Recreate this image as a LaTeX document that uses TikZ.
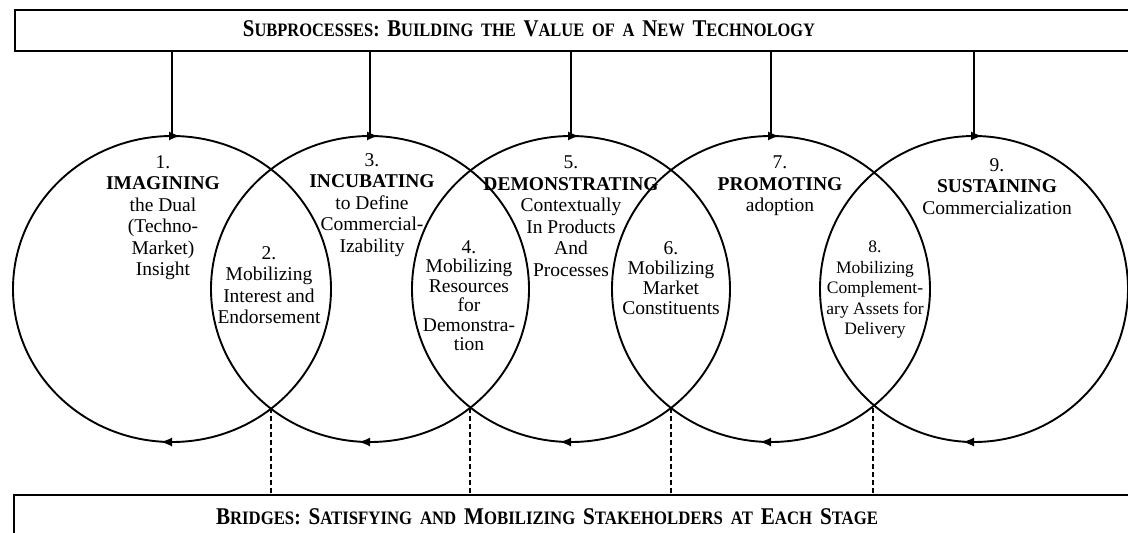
\documentclass[tikz,border=0pt]{standalone}
\usepackage{fontspec}
\setmainfont{Liberation Serif}
\usetikzlibrary{shapes.geometric,arrows.meta}
\newcommand\bsc[2]{{\fontsize{24}{24}\selectfont #1}{\fontsize{19}{19}\selectfont #2}}
\newcommand\wsp{\hspace{9pt}}
\begin{document}
\begin{tikzpicture}[x=1pt,y=1pt,
  stage/.style={draw,ellipse,line width=1.9pt,minimum width=318pt,minimum height=306pt,inner sep=0pt,outer sep=0pt},
  bar/.style={line width=2.4pt},
  feed/.style={line width=1.5pt},
  bridge/.style={line width=1.5pt,dash pattern=on 5pt off 3pt},
  dirtip/.style={-{Latex[length=11pt,width=9pt]},line width=1.2pt},
  lbl/.style={align=center,inner sep=0pt,anchor=north,font=\fontsize{19.5}{21.5}\selectfont},
  banner/.style={inner sep=0pt,anchor=center,font=\bfseries}
  ]
\useasboundingbox (0,0) rectangle (1128,-533);
\fill[white] (0,0) rectangle (1128,-533);
% banners
\draw[bar] (1140,-10) -- (15,-10) -- (15,-51) -- (1140,-51);
\draw[bar] (1140,-495) -- (14,-495) -- (14,-540);
\node[banner] (topbar) at (529,-29) {\resizebox{572pt}{\height}{\bsc{S}{UBPROCESSES}{\fontsize{22}{22}\selectfont:}\wsp\bsc{B}{UILDING}\wsp\bsc{}{THE}\wsp\bsc{V}{ALUE}\wsp\bsc{}{OF}\wsp\bsc{}{A}\wsp\bsc{N}{EW}\wsp\bsc{T}{ECHNOLOGY}}};
\node[banner] (botbar) at (547,-516.5) {\resizebox{662pt}{\height}{\bsc{B}{RIDGES}{\fontsize{22}{22}\selectfont:}\wsp\bsc{S}{ATISFYING}\wsp\bsc{}{AND}\wsp\bsc{M}{OBILIZING}\wsp\bsc{S}{TAKEHOLDERS}\wsp\bsc{}{AT}\wsp\bsc{E}{ACH}\wsp\bsc{S}{TAGE}}};
\coordinate (topedge) at (0,-51);
\coordinate (botedge) at (0,-495);
% circles
\node[stage] (c1) at (172,-289) {};
\node[stage] (c3) at (370,-289) {};
\node[stage] (c5) at (571,-289) {};
\node[stage] (c7) at (771,-289) {};
\node[stage,minimum width=308pt] (c9) at (974,-289) {};
% feeds from the top banner
\foreach \c in {c1,c3,c5,c7,c9}{
  \draw[feed] (\c.north |- topedge) -- (\c.north);
  \draw[dirtip] ([xshift=-3pt]\c.north) -- ([xshift=8pt]\c.north);
  \draw[dirtip] ([xshift=2pt]\c.south) -- ([xshift=-11pt]\c.south);
}
% bridges
\coordinate (x12) at (271,-408);
\coordinate (x34) at (470,-408);
\coordinate (x56) at (671,-408);
\coordinate (x78) at (873,-408);
\foreach \x in {x12,x34,x56,x78}{
  \draw[bridge] (\x) -- (\x |- botedge);
}
% labels
\node[lbl] (t1) at (163,-155) {1.\\\textbf{IMAGINING}\\the Dual\\(Techno-\\Market)\\Insight};
\node[lbl] (t2) at (269,-246) {2.\\Mobilizing\\Interest and\\Endorsement};
\node[lbl] (t3) at (372,-153) {3.\\\textbf{INCUBATING}\\to Define\\Commercial-\\Izability};
\node[lbl,font=\fontsize{19.5}{19.5}\selectfont] (t4) at (469,-240) {4.\\Mobilizing\\Resources\\for\\Demonstra-\\tion};
\node[lbl] (t5) at (571,-156) {5.\\\textbf{DEMONSTRATING}\\Contextually\\In Products\\And\\Processes};
\node[lbl,font=\fontsize{19.5}{20}\selectfont] (t6) at (671,-241.5) {6.\\Mobilizing\\Market\\Constituents};
\node[lbl] (t7) at (780,-156) {7.\\\textbf{PROMOTING}\\adoption};
\node[lbl,font=\fontsize{17.5}{20.5}\selectfont] (t8) at (875,-241) {8.\\Mobilizing\\Complement-\\ary Assets for\\Delivery};
\node[lbl] (t9) at (997,-158) {9.\\\textbf{SUSTAINING}\\Commercialization};
\end{tikzpicture}
\end{document}
